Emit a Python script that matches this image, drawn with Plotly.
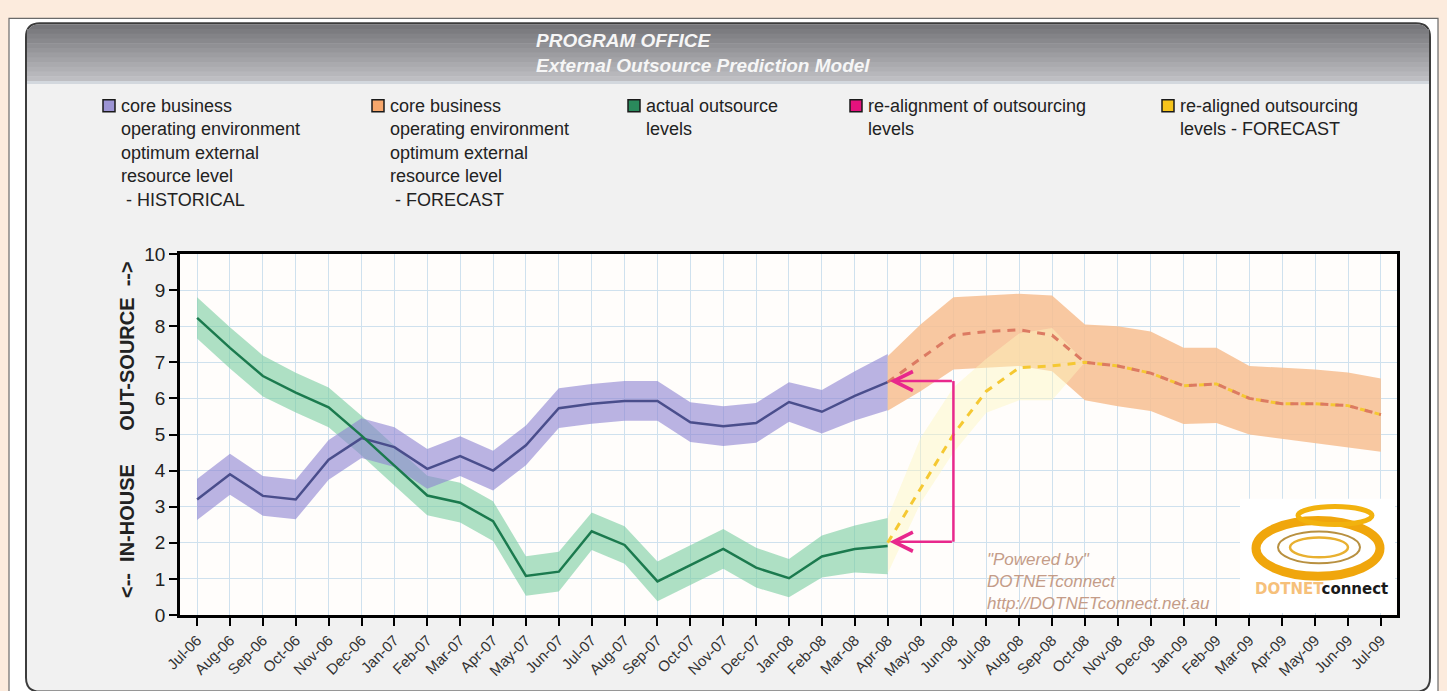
import plotly.graph_objects as go

# ── data ───────────────────────────────────────────────
months = ["Jul-06", "Aug-06", "Sep-06", "Oct-06", "Nov-06", "Dec-06", "Jan-07", "Feb-07",
          "Mar-07", "Apr-07", "May-07", "Jun-07", "Jul-07", "Aug-07", "Sep-07", "Oct-07",
          "Nov-07", "Dec-07", "Jan-08", "Feb-08", "Mar-08", "Apr-08", "May-08", "Jun-08",
          "Jul-08", "Aug-08", "Sep-08", "Oct-08", "Nov-08", "Dec-08", "Jan-09", "Feb-09",
          "Mar-09", "Apr-09", "May-09", "Jun-09", "Jul-09"]

hist_months = months[:22]          # Jul-06 .. Apr-08
fc_months = months[21:]            # Apr-08 .. Jul-09
realign_band_months = months[21:28]  # Apr-08 .. Oct-08

core_hist = [3.2, 3.9, 3.3, 3.2, 4.3, 4.9, 4.65, 4.05, 4.4, 4.0, 4.7, 5.73,
             5.85, 5.93, 5.93, 5.34, 5.23, 5.32, 5.9, 5.63, 6.07, 6.45]
core_hist_spread = [0.57, 0.57, 0.55, 0.55, 0.55, 0.55, 0.55, 0.55, 0.55, 0.55, 0.55,
                    0.55, 0.55, 0.55, 0.55, 0.55, 0.55, 0.55, 0.55, 0.6, 0.68, 0.78]

actual = [8.23, 7.4, 6.62, 6.16, 5.75, 4.97, 4.14, 3.31, 3.11, 2.6, 1.08, 1.2,
          2.32, 1.94, 0.93, 1.39, 1.83, 1.31, 1.02, 1.62, 1.83, 1.91]
actual_spread = [0.57, 0.57, 0.57, 0.55, 0.55, 0.55, 0.55, 0.55, 0.55, 0.55, 0.55,
                 0.55, 0.52, 0.52, 0.55, 0.55, 0.55, 0.55, 0.53, 0.58, 0.65, 0.78]

core_fc = [6.45, 7.1, 7.75, 7.85, 7.9, 7.75, 7.0, 6.9, 6.7, 6.35, 6.4, 6.0,
           5.85, 5.85, 5.8, 5.55]
core_fc_upper = [7.17, 8.05, 8.8, 8.85, 8.9, 8.85, 8.05, 8.0, 7.85, 7.4, 7.4, 6.9,
                 6.85, 6.8, 6.72, 6.55]
core_fc_lower = [5.66, 6.2, 6.8, 6.85, 6.9, 6.75, 5.95, 5.78, 5.65, 5.29, 5.32, 5.0,
                 4.88, 4.77, 4.65, 4.52]

realigned_fc = [2.0, 3.5, 5.0, 6.2, 6.85, 6.9, 7.0, 6.9, 6.7, 6.35, 6.4, 6.0,
                5.85, 5.85, 5.8, 5.55]
realigned_upper = [2.7, 4.9, 6.3, 7.1, 7.8, 7.95, 7.0]
realigned_lower = [1.15, 3.1, 4.5, 5.6, 5.95, 5.95, 7.0]

realign_months = ["Apr-08", "Jun-08"]
realign_levels = [6.48, 2.03]

legend_items = [
    ("core business<br>operating environment<br>optimum external<br>resource level<br>\u00a0- HISTORICAL", "#9c94d4", 103),
    ("core business<br>operating environment<br>optimum external<br>resource level<br>\u00a0- FORECAST", "#f7a76c", 372),
    ("actual outsource<br>levels", "#2a8a5c", 628),
    ("re-alignment of outsourcing<br>levels", "#e5127d", 850),
    ("re-aligned outsourcing<br>levels - FORECAST", "#f6c41c", 1162),
]

# ── pixel helpers (plot area in page pixels) ───────────
W, H = 1447, 691
L, R, T, B = 180, 1397, 254, 617
FONT = "Liberation Sans, Arial, sans-serif"


def px(x):
    return (x - L) / (R - L)


def py(y):
    return (B - y) / (B - T)


def rrect(x0, y0, x1, y1, r, top_only=False):
    rb = 0 if top_only else r
    pts = [
        f"M{px(x0 + r)},{py(y0)}", f"L{px(x1 - r)},{py(y0)}",
        f"Q{px(x1)},{py(y0)} {px(x1)},{py(y0 + r)}",
        f"L{px(x1)},{py(y1 - rb)}",
        f"Q{px(x1)},{py(y1)} {px(x1 - rb)},{py(y1)}",
        f"L{px(x0 + rb)},{py(y1)}",
        f"Q{px(x0)},{py(y1)} {px(x0)},{py(y1 - rb)}",
        f"L{px(x0)},{py(y0 + r)}",
        f"Q{px(x0)},{py(y0)} {px(x0 + r)},{py(y0)}", "Z",
    ]
    return " ".join(pts)


def band(xs, upper, lower, color):
    return [
        go.Scatter(x=xs, y=upper, mode="lines", line=dict(width=0), hoverinfo="skip"),
        go.Scatter(x=xs, y=lower, mode="lines", line=dict(width=0), fill="tonexty",
                   fillcolor=color, hoverinfo="skip"),
    ]


fig = go.Figure()

# bands
for tr in band(hist_months, [a + s for a, s in zip(actual, actual_spread)],
               [a - s for a, s in zip(actual, actual_spread)], "rgba(120,205,160,0.6)"):
    fig.add_trace(tr)
for tr in band(hist_months, [a + s for a, s in zip(core_hist, core_hist_spread)],
               [a - s for a, s in zip(core_hist, core_hist_spread)], "rgba(140,130,210,0.6)"):
    fig.add_trace(tr)
for tr in band(fc_months, core_fc_upper, core_fc_lower, "rgba(247,190,145,0.85)"):
    fig.add_trace(tr)
for tr in band(realign_band_months, realigned_upper, realigned_lower, "rgba(253,246,190,0.45)"):
    fig.add_trace(tr)

# lines
fig.add_trace(go.Scatter(x=hist_months, y=core_hist, mode="lines",
                         line=dict(color="#4a4e8c", width=2.5)))
fig.add_trace(go.Scatter(x=hist_months, y=actual, mode="lines",
                         line=dict(color="#1b7a4e", width=2.5)))
fig.add_trace(go.Scatter(x=fc_months, y=realigned_fc, mode="lines",
                         line=dict(color="#f5c832", width=3, dash="8px,7px")))
fig.add_trace(go.Scatter(x=fc_months, y=core_fc, mode="lines",
                         line=dict(color="#dc7a62", width=3, dash="8px,7px")))

# re-alignment connector
fig.add_trace(go.Scatter(x=[realign_months[1], realign_months[1]], y=realign_levels,
                         mode="lines", line=dict(color="#e8288c", width=2.5)))

annotations = []
for lvl in realign_levels:
    annotations.append(dict(
        x=months.index(realign_months[0]), y=lvl, ax=months.index(realign_months[1]), ay=lvl,
        xref="x", yref="y", axref="x", ayref="y", text="", showarrow=True,
        arrowhead=5, arrowsize=1.5, arrowwidth=2.5, arrowcolor="#e8288c", standoff=2,
    ))

# ── page decoration ────────────────────────────────────
shapes = [
    dict(type="rect", xref="paper", yref="paper", x0=px(9), x1=px(1438), y0=py(17), y1=py(700),
         fillcolor="white", line=dict(color="#6a6a6a", width=1.2), layer="below"),
    dict(type="path", xref="paper", yref="paper", path=rrect(26, 22, 1430, 694, 14),
         fillcolor="#f1f1f1", line=dict(color="#3c3c3c", width=2), layer="below"),
]

head_top, head_bot = 23, 80
n_strips = 12
c0, c1 = (118, 118, 122), (190, 190, 194)
step = (head_bot - head_top) / n_strips
for i in range(n_strips):
    t = i / (n_strips - 1)
    col = "rgb({},{},{})".format(*[int(a + (b - a) * t) for a, b in zip(c0, c1)])
    y0 = head_top + i * step
    y1 = y0 + step + 0.6
    if i == 0:
        shapes.append(dict(type="path", xref="paper", yref="paper",
                           path=rrect(27, y0, 1429, y1 + 6, 13, top_only=True),
                           fillcolor=col, line=dict(width=0), layer="below"))
    else:
        shapes.append(dict(type="rect", xref="paper", yref="paper", x0=px(27), x1=px(1429),
                           y0=py(y0), y1=py(y1), fillcolor=col, line=dict(width=0), layer="below"))
shapes.append(dict(type="rect", xref="paper", yref="paper", x0=px(27), x1=px(1429),
                   y0=py(80), y1=py(83), fillcolor="#d3d8de", line=dict(width=0), layer="below"))

# plot area background
shapes.append(dict(type="rect", xref="paper", yref="paper", x0=0, x1=1, y0=0, y1=1,
                   fillcolor="#fffdfb", line=dict(width=0), layer="below"))

# legend swatches and text
for text, color, x in legend_items:
    shapes.append(dict(type="rect", xref="paper", yref="paper", x0=px(x), x1=px(x + 12),
                       y0=py(99), y1=py(111), fillcolor=color,
                       line=dict(color="#1a1a1a", width=1.5)))
    annotations.append(dict(x=px(x + 16), y=py(93), xref="paper", yref="paper", text=text,
                            showarrow=False, xanchor="left", yanchor="top", align="left",
                            font=dict(family=FONT, size=18, color="#222222")))

# title
annotations.append(dict(x=px(534), y=py(52), xref="paper", yref="paper",
                        text="<b><i>PROGRAM OFFICE<br>External Outsource Prediction Model</i></b>",
                        showarrow=False, xanchor="left", yanchor="middle", align="left",
                        font=dict(family=FONT, size=19, color="#f6f6f6")))

# y axis title
sp = "\u00a0"
annotations.append(dict(x=px(127), y=py(431), xref="paper", yref="paper",
                        text="<b>&lt;--" + sp * 2 + "IN-HOUSE" + sp * 6 + "OUT-SOURCE" + sp * 2 + "--&gt;</b>",
                        textangle=-90, showarrow=False, xanchor="center", yanchor="middle",
                        font=dict(family=FONT, size=20, color="#222222")))

# watermark
annotations.append(dict(x=px(985), y=py(550), xref="paper", yref="paper",
                        text="<i>\"Powered by\"<br>DOTNETconnect<br>http://DOTNETconnect.net.au</i>",
                        showarrow=False, xanchor="left", yanchor="top", align="left",
                        font=dict(family=FONT, size=17, color="#c49c88")))

# logo
shapes += [
    dict(type="rect", xref="paper", yref="paper", x0=px(1240), x1=px(1395), y0=py(500), y1=py(615),
         fillcolor="white", line=dict(width=0), layer="above"),
    dict(type="circle", xref="paper", yref="paper", x0=px(1256), x1=px(1380), y0=py(522), y1=py(578),
         fillcolor="rgba(0,0,0,0)", line=dict(color="#f0a60c", width=9)),
    dict(type="circle", xref="paper", yref="paper", x0=px(1278), x1=px(1360), y0=py(533), y1=py(565),
         fillcolor="rgba(0,0,0,0)", line=dict(color="#b89040", width=2)),
    dict(type="circle", xref="paper", yref="paper", x0=px(1290), x1=px(1348), y0=py(539), y1=py(559),
         fillcolor="rgba(0,0,0,0)", line=dict(color="#e8b030", width=2.5)),
    dict(type="circle", xref="paper", yref="paper", x0=px(1298), x1=px(1372), y0=py(508), y1=py(526),
         fillcolor="rgba(0,0,0,0)", line=dict(color="#f2b20e", width=5)),
]
annotations.append(dict(x=px(1253), y=py(591), xref="paper", yref="paper",
                        text="<b><span style='color:#f6c07a'>DOTNET</span>connect</b>",
                        showarrow=False, xanchor="left", yanchor="middle",
                        font=dict(family="DejaVu Sans, sans-serif", size=15, color="#1a1a1a")))

axis_common = dict(
    showgrid=True, gridcolor="#cfe1ee", gridwidth=1, zeroline=False,
    showline=True, linecolor="#000000", linewidth=2.5, mirror=True,
    ticks="outside", ticklen=8, tickwidth=2, tickcolor="#000000",
)

fig.update_layout(
    width=W, height=H,
    margin=dict(l=L, r=W - R, t=T, b=H - B),
    paper_bgcolor="#fcebdd",
    plot_bgcolor="rgba(0,0,0,0)",
    showlegend=False,
    shapes=shapes,
    annotations=annotations,
    xaxis=dict(type="category", categoryorder="array", categoryarray=months,
               range=[-0.52, 36.49], tickangle=-45,
               tickfont=dict(family=FONT, size=15, color="#333333"), **axis_common),
    yaxis=dict(range=[0, 10], dtick=1, tickfont=dict(family=FONT, size=19, color="#222222"),
               **axis_common),
)

fig.write_html("out.html", config={"displayModeBar": False},
               post_script="document.body.style.margin='0';document.body.style.background='#fcebdd';")
